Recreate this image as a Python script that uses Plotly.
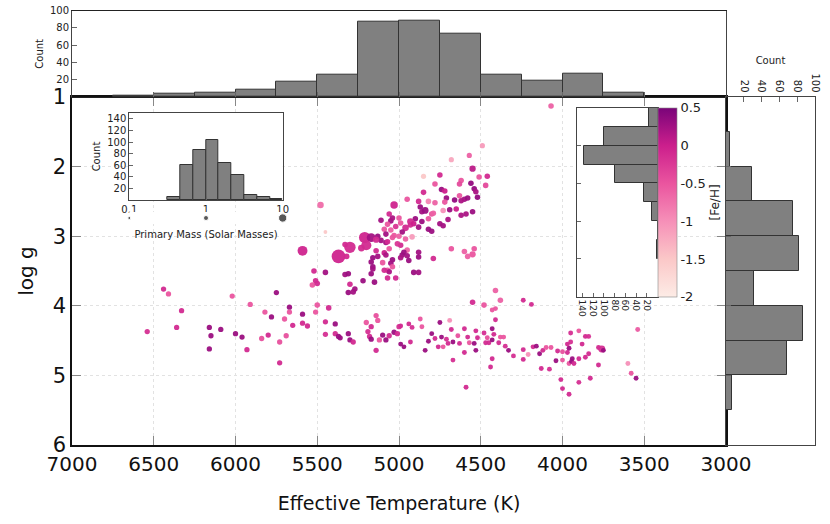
import numpy as np
import plotly.graph_objects as go

# giant branch stars (Teff, log g, [Fe/H], primary mass)
giant_teff = [
    4070, 4490, 4570, 4680, 4550, 4460, 4510, 4750, 4850, 4620,
    4560, 4630, 4780, 4470, 4740, 4720, 4540, 4530, 4850, 4630,
    4520, 4710, 4660, 4600, 4580, 4620, 4720, 4780, 4820, 4880,
    4950, 5030, 4870, 4860, 4840, 4800, 4790, 4690, 4730, 4650,
    4550, 4590, 4620, 4700, 4750, 4730, 4820, 4860, 4820, 4800,
    4880, 4900, 4930, 4930, 4960, 4910, 4990, 5000, 5060, 5110,
    5050, 5040, 5070, 5020, 5050, 5090, 4980, 5030, 5000, 5040,
    4960, 4920, 5080, 5130, 5110, 5080, 5070, 4990, 5010, 5060,
    4950, 4970, 4980, 4950, 4940, 4880, 4880, 4790, 4910, 4880,
    4990, 5040, 5050, 5040, 5070, 5060, 5070, 5020, 5090, 5080,
    5140, 5130, 5160, 5170, 5160, 5160, 5170, 5100, 5150, 5090,
    5210, 5170, 5200, 5230, 5140, 5300, 5370, 5330, 5320, 5590,
    5480, 5450, 5520, 5450, 5330, 5310, 5510, 5530, 5500, 5300,
    5270, 5220, 5310, 5280, 4680, 4600, 4540, 4550, 4580, 4410,
    4380, 4550, 4480, 5500, 5430]
giant_logg = [
    1.13, 1.70, 1.84, 1.90, 2.03, 2.14, 2.15, 2.12, 2.14, 2.20,
    2.24, 2.25, 2.25, 2.27, 2.33, 2.35, 2.32, 2.36, 2.37, 2.42,
    2.44, 2.45, 2.48, 2.47, 2.45, 2.49, 2.51, 2.52, 2.50, 2.50,
    2.47, 2.55, 2.58, 2.65, 2.63, 2.68, 2.67, 2.62, 2.63, 2.61,
    2.65, 2.68, 2.70, 2.76, 2.82, 2.85, 2.75, 2.79, 2.90, 2.93,
    2.87, 2.75, 2.79, 2.84, 2.88, 2.82, 2.81, 2.74, 2.68, 2.77,
    2.78, 2.74, 2.83, 2.86, 2.91, 2.90, 2.94, 2.99, 3.00, 3.02,
    3.04, 3.01, 2.97, 3.00, 3.06, 3.09, 3.08, 3.13, 3.11, 3.18,
    3.20, 3.23, 3.27, 3.28, 3.35, 3.23, 3.30, 3.32, 3.52, 3.52,
    3.31, 3.34, 3.39, 3.44, 3.49, 3.51, 3.60, 3.60, 3.24, 3.27,
    3.21, 3.29, 3.31, 3.37, 3.44, 3.47, 3.54, 3.38, 3.66, 3.49,
    3.02, 3.02, 3.13, 3.17, 3.05, 3.16, 3.29, 3.12, 3.29, 3.21,
    2.55, 2.94, 3.50, 3.52, 3.55, 3.54, 3.64, 3.70, 3.68, 3.69,
    3.76, 3.64, 3.81, 3.80, 3.18, 3.22, 3.18, 3.26, 3.29, 3.78,
    3.92, 3.95, 3.99, 3.99, 4.03]
giant_feh = [
    -0.6, -1.1, -0.6, -1.2, 0.1, -0.1, -0.5, -0.1, -1.5, -0.5,
    0.35, -0.4, -0.5, -0.4, 0.3, 0.0, 0.35, 0.2, -0.1, -0.5,
    0.35, 0.3, 0.35, 0.25, 0.3, 0.2, -0.5, -0.6, -0.9, -0.1,
    -0.5, -0.05, 0.3, 0.25, 0.3, -0.5, -0.6, 0.3, -1.0, 0.0,
    0.3, 0.2, 0.2, 0.2, 0.25, 0.25, -0.5, 0.3, 0.3, 0.3,
    0.25, 0.3, -0.1, -0.1, -0.1, 0.0, -0.5, -0.5, -0.1, 0.25,
    0.25, 0.2, -0.5, -0.2, -0.6, -0.5, 0.25, -0.5, -0.6, -0.5,
    -0.6, -1.1, 0.25, 0.3, 0.25, 0.25, -0.1, -0.1, -0.2, -0.5,
    -0.6, 0.3, 0.3, 0.25, 0.3, 0.25, 0.3, -0.1, 0.3, 0.25,
    0.2, 0.3, 0.25, -0.5, -0.5, 0.2, -0.1, -0.1, 0.0, 0.2,
    -0.1, 0.25, 0.3, 0.3, 0.3, 0.25, 0.3, -0.5, 0.3, -0.1,
    -0.05, 0.25, -0.1, -0.1, -0.1, -0.1, -0.05, -0.1, -0.1, -0.05,
    -0.7, -1.5, -0.1, 0.25, 0.25, 0.3, -0.1, -0.5, -0.1, -0.1,
    0.25, 0.3, 0.3, 0.25, -0.5, -0.6, -0.5, -0.5, -0.6, -0.6,
    -0.6, -0.1, -0.5, -0.5, -0.1]
giant_mass = [
    0.9, 0.7, 0.7, 0.7, 1.5, 0.9, 0.9, 0.9, 0.7, 0.9,
    0.9, 0.9, 0.9, 0.9, 0.9, 0.9, 0.9, 0.9, 0.9, 0.9,
    0.9, 0.9, 0.9, 0.9, 0.9, 0.9, 0.9, 0.9, 0.9, 0.9,
    0.9, 3.0, 0.9, 0.9, 2.0, 0.9, 0.9, 0.9, 0.9, 0.9,
    0.9, 0.9, 0.9, 0.9, 0.9, 0.9, 0.9, 0.9, 0.9, 0.9,
    0.9, 0.9, 1.8, 0.9, 1.8, 0.9, 0.9, 0.9, 0.9, 0.9,
    0.9, 0.9, 0.9, 0.9, 0.9, 0.9, 0.9, 0.9, 0.9, 0.9,
    0.9, 0.9, 0.9, 0.9, 0.9, 0.9, 0.9, 0.9, 0.9, 0.9,
    0.9, 0.9, 0.9, 0.9, 0.9, 0.9, 0.9, 0.9, 0.9, 0.9,
    0.9, 0.9, 0.9, 0.9, 0.9, 0.9, 0.9, 0.9, 0.9, 0.9,
    0.9, 0.9, 0.9, 0.9, 0.9, 0.9, 0.9, 0.9, 0.9, 0.9,
    16.0, 6.0, 10.0, 2.0, 1.5, 16.0, 33.0, 0.9, 0.9, 9.0,
    1.7, 0.2, 0.9, 0.9, 0.9, 0.9, 0.9, 0.9, 0.9, 0.9,
    0.9, 0.9, 0.9, 0.9, 0.9, 0.9, 0.9, 1.5, 0.9, 0.9,
    0.9, 0.9, 0.9, 0.9, 0.9]

# main sequence stars
dwarf_teff = [
    6440, 6410, 6330, 6540, 6360, 6160, 6150, 6090, 6160, 6020,
    6000, 5960, 5930, 5910, 5840, 5820, 5800, 5780, 5750, 5730,
    5730, 5700, 5690, 5670, 5670, 5650, 5590, 5590, 5560, 5510,
    5450, 5450, 5390, 5390, 5370, 5360, 5310, 5300, 5280, 5200,
    5140, 5130, 5170, 5190, 5180, 5170, 5120, 5100, 5080, 5060,
    5030, 5010, 5140, 5000, 4410, 4430, 4240, 4190, 4410, 4870,
    4940, 4920, 4990, 4860, 4750, 4690, 4680, 4600, 4800, 4780,
    4820, 4740, 4710, 4700, 4670, 4640, 4630, 4760, 4730, 4840,
    4930, 4990, 4970, 4580, 4570, 4540, 4600, 4670, 4530, 4520,
    4530, 4480, 4460, 4470, 4450, 4430, 4420, 4430, 4380, 4360,
    4390, 4350, 4330, 4430, 4440, 4590, 4300, 4240, 4240, 4210,
    4180, 4160, 4140, 4120, 4100, 4070, 4130, 4080, 4040, 4030,
    4000, 4000, 3970, 3960, 3970, 3950, 3960, 3940, 3945, 3930,
    3900, 3950, 3900, 3880, 3860, 3840, 3860, 3840, 3780, 3760,
    3750, 3780, 3830, 3900, 4000, 4010, 3600, 3580, 3550, 3540,
    3960]
dwarf_logg = [
    3.76, 3.83, 4.07, 4.37, 4.31, 4.31, 4.43, 4.34, 4.62, 3.86,
    4.40, 4.45, 4.63, 3.98, 4.47, 4.09, 4.42, 4.16, 3.81, 4.52,
    4.82, 4.19, 4.43, 4.02, 4.09, 4.28, 4.12, 4.25, 4.29, 4.09,
    4.23, 4.41, 4.26, 4.40, 4.44, 4.46, 4.40, 4.49, 4.52, 4.24,
    4.14, 4.21, 4.30, 4.37, 4.44, 4.48, 4.49, 4.42, 4.49, 4.43,
    4.38, 4.40, 4.64, 4.30, 4.04, 4.06, 3.92, 3.98, 4.20, 4.19,
    4.26, 4.31, 4.29, 4.30, 4.24, 4.21, 4.34, 4.33, 4.40, 4.47,
    4.51, 4.45, 4.48, 4.54, 4.52, 4.43, 4.54, 4.59, 4.59, 4.64,
    4.52, 4.55, 4.59, 4.45, 4.53, 4.54, 4.67, 4.78, 4.64, 4.46,
    4.36, 4.39, 4.46, 4.53, 4.53, 4.49, 4.41, 4.33, 4.45, 4.45,
    4.53, 4.58, 4.64, 4.76, 4.88, 5.17, 4.72, 4.63, 4.77, 4.70,
    4.59, 4.58, 4.69, 4.64, 4.60, 4.60, 4.90, 4.91, 4.79, 4.65,
    4.78, 4.66, 4.67, 4.61, 4.55, 4.52, 4.83, 4.76, 4.80, 4.83,
    4.76, 4.39, 4.36, 4.55, 4.44, 4.44, 4.74, 4.69, 4.60, 4.62,
    4.64, 4.85, 5.04, 5.10, 5.19, 5.06, 4.83, 4.97, 5.04, 4.34,
    5.27]
dwarf_feh = [
    -0.1, -0.5, -0.1, -0.15, -0.1, 0.3, 0.3, 0.3, 0.3, -0.5,
    0.3, 0.3, -0.1, -0.5, -0.45, -0.5, -0.1, 0.3, 0.3, -0.45,
    -0.1, -0.5, -0.45, 0.3, -0.5, -0.1, 0.3, -0.1, -0.1, -0.5,
    -0.1, -0.15, 0.3, -0.1, 0.3, 0.3, 0.3, 0.3, -0.1, -0.5,
    -0.45, -0.5, -0.1, -0.15, -0.1, 0.3, -0.5, 0.3, 0.3, -0.1,
    0.3, -0.1, -0.1, -0.15, -0.5, -0.5, -0.1, -0.1, -0.1, -0.5,
    -0.1, -0.15, -0.1, -0.5, 0.3, -1.0, -0.1, -0.1, 0.3, -0.1,
    0.3, 0.3, -0.15, -0.1, 0.3, -0.45, -0.1, -0.1, -0.5, 0.3,
    -0.1, 0.3, 0.3, -0.1, -0.5, 0.3, -0.1, -0.15, 0.3, -0.1,
    -0.1, -0.15, -0.45, -0.1, -0.1, 0.3, -0.1, 0.3, -0.5, -0.5,
    -0.1, -0.15, 0.3, -0.1, -0.1, -0.1, -0.15, -0.1, -0.1, -1.0,
    -0.1, 0.3, 0.3, -0.1, -0.5, -0.5, -0.1, -0.15, 0.3, -0.1,
    -0.5, -0.45, -0.1, 0.3, -0.1, -0.15, -0.5, 0.3, 0.3, -0.1,
    -0.1, -0.15, -0.5, -0.1, -0.1, -0.15, -0.1, -0.1, -0.1, -0.15,
    0.3, -0.1, -0.1, -0.15, -0.1, -0.1, -1.0, -0.5, 0.3, -0.55,
    -0.1]
dwarf_mass = [0.75] * 54 + [0.55] * 85 + [2.2] + [0.55] * 12 + [2.5, 0.55]

# marginal histograms
teff_bin_centers = [6625, 6375, 6125, 5875, 5625, 5375, 5125, 4875, 4625, 4375, 4125, 3875, 3625]
teff_counts = [1, 4, 5, 9, 18, 26, 87, 88, 73, 26, 19, 27, 5]
logg_bin_centers = [1.75, 2.25, 2.75, 3.25, 3.75, 4.25, 4.75, 5.25]
logg_counts = [4, 29, 75, 82, 31, 86, 69, 7]

# inset histograms
mass_bin_log_centers = [-0.417, -0.25, -0.083, 0.083, 0.25, 0.417, 0.583, 0.75, 0.917]
mass_counts = [5, 61, 87, 104, 63, 43, 9, 6, 1]
feh_bin_centers = [0.375, 0.125, -0.125, -0.375, -0.625, -0.875, -1.125, -1.375]
feh_counts = [17, 99, 137, 79, 26, 10, 0, 2]
legend_masses = [0.1, 1, 10]

teff = giant_teff + dwarf_teff
logg = giant_logg + dwarf_logg
feh = giant_feh + dwarf_feh
mass = np.array(giant_mass + dwarf_mass)

W, H = 830, 524
def px_x(a, b):
    return [a / W, b / W]
def px_y(top, bottom):
    return [1 - bottom / H, 1 - top / H]

colorscale = [[0.0, "#fdece6"], [0.2, "#fbc8c8"], [0.4, "#f690b8"],
              [0.6, "#ea559f"], [0.8, "#cc1f8c"], [1.0, "#7a0479"]]
bar_style = dict(color="#808080", line=dict(color="#333333", width=1))
font = "DejaVu Sans"

fig = go.Figure()

fig.add_trace(go.Scatter(
    x=teff, y=logg, mode="markers", xaxis="x", yaxis="y",
    marker=dict(size=5.7 * mass ** 0.25, color=feh, colorscale=colorscale,
                cmin=-2, cmax=0.5, opacity=0.95, line=dict(width=0),
                colorbar=dict(x=657.7 / W, xanchor="left", xpad=0, ypad=0,
                              y=1 - 202.4 / H, yanchor="middle",
                              len=188.7 / H, lenmode="fraction", thickness=19,
                              outlinewidth=0.6, outlinecolor="#888",
                              tickvals=[0.5, 0, -0.5, -1, -1.5, -2],
                              ticktext=["0.5", "0", "-0.5", "-1", "-1.5", "-2"],
                              ticks="", tickfont=dict(size=13, color="#222"),
                              title=dict(text="[Fe/H]", side="right",
                                         font=dict(size=12, color="#222")))),
    showlegend=False))

fig.add_trace(go.Bar(x=teff_bin_centers, y=teff_counts, width=250,
                     marker=bar_style, xaxis="x2", yaxis="y2", showlegend=False))
fig.add_trace(go.Bar(y=logg_bin_centers, x=logg_counts, width=0.5, orientation="h",
                     marker=bar_style, xaxis="x3", yaxis="y3", showlegend=False))
fig.add_trace(go.Bar(x=mass_bin_log_centers, y=mass_counts, width=1 / 6,
                     marker=bar_style, xaxis="x4", yaxis="y4", showlegend=False))
fig.add_trace(go.Bar(y=feh_bin_centers, x=feh_counts, width=0.25, orientation="h",
                     marker=bar_style, xaxis="x5", yaxis="y5", showlegend=False))
fig.add_trace(go.Scatter(x=np.log10(legend_masses), y=[0.5, 0.5, 0.5], mode="markers",
                         marker=dict(size=5 * np.array(legend_masses) ** 0.22, color="#111"),
                         xaxis="x6", yaxis="y6", showlegend=False, cliponaxis=False))

tick_small = dict(size=10, color="#222", family=font)
box = dict(showline=True, linecolor="#444", linewidth=1, mirror=True, zeroline=False,
           showgrid=False, automargin=False)
grid = dict(showgrid=True, gridcolor="#e2e2e2", griddash="dot", gridwidth=1)

fig.update_layout(
    width=W, height=H, margin=dict(l=0, r=0, t=0, b=0, autoexpand=False),
    plot_bgcolor="white", paper_bgcolor="white",
    font=dict(family=font, color="#111"), bargap=0,
    xaxis=dict(domain=px_x(72, 726), range=[7000, 3000], anchor="y", automargin=False,
               tickvals=[7000, 6500, 6000, 5500, 5000, 4500, 4000, 3500, 3000],
               ticks="inside", ticklen=9, tickcolor="#888", mirror="ticks",
               showline=True, linecolor="#111", linewidth=1.5, zeroline=False, **grid,
               tickfont=dict(size=20), title=dict(text="Effective Temperature (K)",
                                                  font=dict(size=19), standoff=22)),
    yaxis=dict(domain=px_y(97, 445), range=[6, 1], anchor="x", dtick=1, automargin=False,
               ticks="inside", ticklen=9, tickcolor="#888", mirror="ticks",
               showline=True, linecolor="#111", linewidth=1.5, zeroline=False, **grid,
               tickfont=dict(size=21), title=dict(text="log g", font=dict(size=20), standoff=14)),
    xaxis2=dict(domain=px_x(72, 726), range=[7000, 3000], anchor="y2",
                tickvals=[6500, 6000, 5500, 5000, 4500, 4000, 3500],
                ticks="inside", ticklen=5, tickcolor="#666", showticklabels=False,
                showline=True, linecolor="#222", linewidth=1.3, mirror=True,
                zeroline=False, showgrid=False, automargin=False),
    yaxis2=dict(domain=px_y(10.7, 97), range=[0, 100], anchor="x2",
                tickvals=[20, 40, 60, 80, 100], ticks="inside", ticklen=5, tickcolor="#666",
                tickfont=tick_small, title=dict(text="Count", font=tick_small, standoff=4), **box),
    xaxis3=dict(domain=px_x(726, 815), range=[0, 100], anchor="y3", side="top",
                tickvals=[20, 40, 60, 80, 100], ticks="inside", ticklen=5, tickcolor="#666",
                tickangle=90, tickfont=tick_small,
                title=dict(text="Count", font=tick_small, standoff=6), **box),
    yaxis3=dict(domain=px_y(97, 445), range=[6, 1], anchor="x3", dtick=1,
                ticks="inside", ticklen=5, tickcolor="#666", showticklabels=False, **box),
    xaxis4=dict(domain=px_x(129.3, 282.7), range=[-1, 1], anchor="y4",
                tickvals=[-1, 0, 1], ticktext=["0.1", "1", "10"],
                ticks="inside", ticklen=4, tickcolor="#666", tickfont=tick_small,
                title=dict(text="Primary Mass (Solar Masses)", font=tick_small, standoff=16), **box),
    yaxis4=dict(domain=px_y(113, 200), range=[0, 150], anchor="x4",
                tickvals=[20, 40, 60, 80, 100, 120, 140], ticks="inside", ticklen=4,
                tickcolor="#666", tickfont=tick_small,
                title=dict(text="Count", font=tick_small, standoff=4), **box),
    xaxis5=dict(domain=px_x(577, 657.7), range=[150, 0], anchor="y5",
                tickvals=[20, 40, 60, 80, 100, 120, 140], ticks="inside", ticklen=4,
                tickcolor="#666", tickangle=90, tickfont=dict(size=9, color="#222"), **box),
    yaxis5=dict(domain=px_y(108, 296.7), range=[-2, 0.5], anchor="x5",
                tickvals=[-1.5, -1, -0.5, 0], ticks="inside", ticklen=4, tickcolor="#666",
                showticklabels=False, **box),
    xaxis6=dict(domain=px_x(129.3, 282.7), range=[-1, 1], anchor="y6", visible=False),
    yaxis6=dict(domain=px_y(212, 224), range=[0, 1], anchor="x6", visible=False),
)

# the page's default body margin would shift the figure by 8px
fig.write_html("out.html", config={"displayModeBar": False},
               post_script="document.body.style.margin = '0';")
